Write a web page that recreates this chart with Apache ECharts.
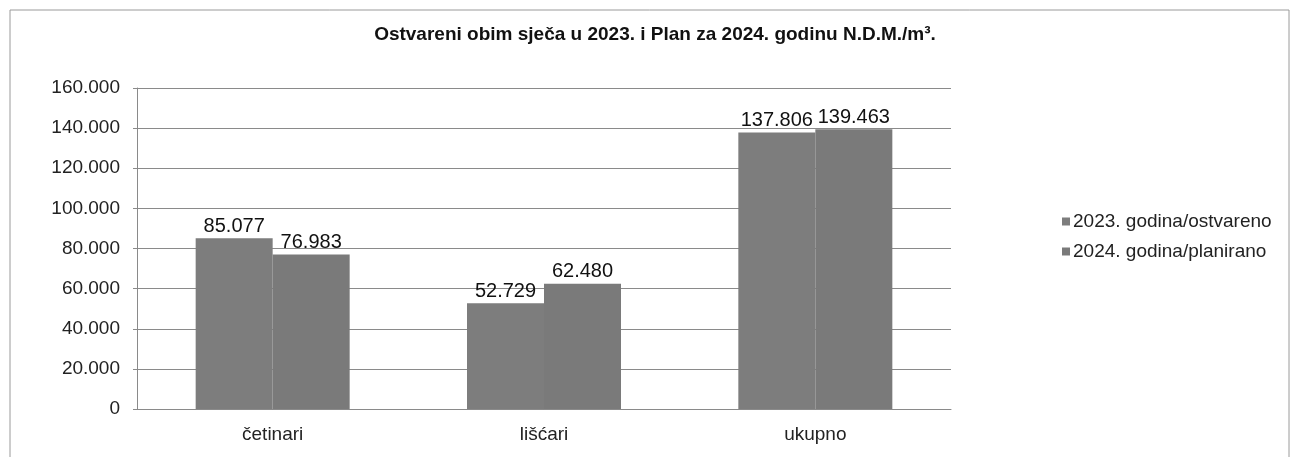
<!DOCTYPE html>
<html>
<head>
<meta charset="utf-8">
<script src="https://cdn.jsdelivr.net/npm/echarts@6/dist/echarts.min.js"></script>
<style>
  html, body { margin: 0; padding: 0; background: #fff; }
  #main { width: 1290px; height: 457px; }
</style>
</head>
<body>
<div id="main"></div>
<script>
// podaci
var categories = ['četinari', 'lišćari', 'ukupno'];
var seriesNames = ['2023. godina/ostvareno', '2024. godina/planirano'];
var values2023 = [85077, 52729, 137806];
var values2024 = [76983, 62480, 139463];

function fmt(v) {
    // 85077 -> 85.077
    return String(v).replace(/\B(?=(\d{3})+(?!\d))/g, '.');
}

var myChart = echarts.init(document.getElementById('main'));
var font = 'Arial, "Liberation Sans"';

var labelStyle = {
    show: true,
    position: 'top',
    distance: 2,
    color: '#111',
    fontFamily: font,
    fontSize: 20,
    formatter: function (p) { return fmt(p.value); }
};

var option = {
    animation: false,
    backgroundColor: '#fff',
    title: {
        text: 'Ostvareni obim sječa u 2023. i Plan za 2024. godinu N.D.M./m³.',
        left: 655,
        textAlign: 'center',
        top: 25,
        padding: 0,
        textStyle: {
            fontFamily: font,
            fontSize: 19,
            fontWeight: 'bold',
            color: '#111'
        }
    },
    graphic: [{
        type: 'rect',
        shape: { x: 10, y: 10, width: 1279, height: 470 },
        style: { fill: 'none', stroke: '#9a9a9a', lineWidth: 1 },
        silent: true
    }],
    legend: {
        orient: 'vertical',
        left: 1057,
        top: 207,
        itemGap: 11,
        itemWidth: 8,
        itemHeight: 8,
        icon: 'rect',
        data: seriesNames,
        textStyle: {
            fontFamily: font,
            fontSize: 19,
            color: '#222',
            padding: [0, 0, 0, -2]
        }
    },
    grid: {
        left: 137,
        right: 339,
        top: 88,
        bottom: 48
    },
    xAxis: {
        type: 'category',
        data: categories,
        axisLine: { lineStyle: { color: '#8a8a8a' } },
        axisTick: { show: false },
        axisLabel: {
            color: '#222',
            fontFamily: font,
            fontSize: 19,
            margin: 16
        }
    },
    yAxis: {
        type: 'value',
        min: 0,
        max: 160000,
        interval: 20000,
        axisLine: { show: true, lineStyle: { color: '#8a8a8a' } },
        axisTick: { show: true, length: 4, lineStyle: { color: '#8a8a8a' } },
        splitLine: { lineStyle: { color: '#8a8a8a', width: 1 } },
        axisLabel: {
            color: '#222',
            fontFamily: font,
            fontSize: 19,
            margin: 17,
            formatter: function (v) { return fmt(v); }
        }
    },
    series: [{
        name: seriesNames[0],
        type: 'bar',
        data: values2023,
        barWidth: 77,
        barGap: '0%',
        itemStyle: { color: '#7d7d7d' },
        label: labelStyle
    }, {
        name: seriesNames[1],
        type: 'bar',
        data: values2024,
        barWidth: 77,
        barGap: '0%',
        itemStyle: { color: '#7a7a7a' },
        label: labelStyle
    }]
};

myChart.setOption(option);
</script>
</body>
</html>
